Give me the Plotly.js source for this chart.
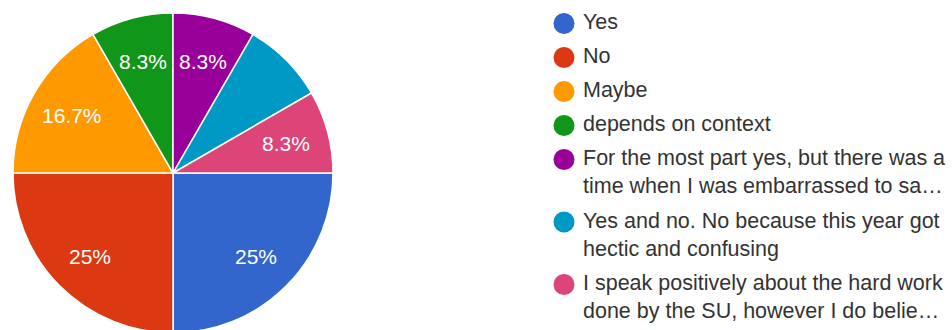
<!DOCTYPE html>
<html>
<head>
<meta charset="utf-8">
<script src="https://cdn.plot.ly/plotly-3.0.1.min.js"></script>
<style>
  html, body { margin: 0; padding: 0; overflow: hidden; background: #fff; }
  #chart { width: 952px; height: 346px; }
</style>
</head>
<body>
<div id="chart"></div>
<script>
// ---- data ----
const categories = ["Yes", "No", "Maybe", "depends on context",
  "For the most part yes, but there was a time when I was embarrassed to say...",
  "Yes and no. No because this year got hectic and confusing",
  "I speak positively about the hard work done by the SU, however I do believe..."];
const counts = [3, 3, 2, 1, 1, 1, 1];
const legendLabels = [
  "Yes",
  "No",
  "Maybe",
  "depends on context",
  "For the most part yes, but there was a<br>time when I was embarrassed to sa…",
  "Yes and no. No because this year got<br>hectic and confusing",
  "I speak positively about the hard work<br>done by the SU, however I do belie…"
];
const showPct = [true, true, true, true, true, false, true];
const colors = ["#3366cc", "#dc3912", "#ff9900", "#109618", "#990099", "#0099c6", "#dd4477"];

// ---- layout constants ----
const W = 952, H = 346;
const cx = 173, cy = 173, R = 160;
const FONT = "Arial, 'Liberation Sans', sans-serif";
const px2x = p => p / W;
const px2y = p => 1 - p / H;

const total = counts.reduce((a, b) => a + b, 0);
const rotation = 90;

const pie = {
  type: "pie",
  values: counts,
  labels: categories,
  sort: false,
  direction: "clockwise",
  rotation: rotation,
  textinfo: "none",
  hoverinfo: "none",
  marker: { colors: colors, line: { color: "#ffffff", width: 1.5 } },
  domain: { x: [px2x(cx - R), px2x(cx + R)], y: [px2y(cy + R), px2y(cy - R)] },
  showlegend: false
};

const annotations = [];
const shapes = [];

// percentage labels inside slices
let cum = 0;
counts.forEach((v, i) => {
  const mid = (rotation + 360 * (cum + v / 2) / total) * Math.PI / 180;
  cum += v;
  if (!showPct[i]) return;
  const rl = 0.73 * R;
  const pct = (100 * v / total);
  let txt = pct.toFixed(1);
  if (txt.endsWith(".0")) txt = txt.slice(0, -2);
  annotations.push({
    xref: "paper", yref: "paper",
    x: px2x(cx + rl * Math.sin(mid)), y: px2y(cy - rl * Math.cos(mid) + 1),
    xanchor: "center", yanchor: "middle",
    text: txt + "%", showarrow: false,
    font: { family: FONT, size: 21, color: "#ffffff" }
  });
});

// custom legend
const dotX = 564, dotR = 10.5, textX = 582;
let ly = 23.5;
legendLabels.forEach((lab, i) => {
  const lines = lab.split("<br>").length;
  shapes.push({
    type: "circle", xref: "paper", yref: "paper",
    x0: px2x(dotX - dotR), x1: px2x(dotX + dotR),
    y0: px2y(ly + dotR), y1: px2y(ly - dotR),
    fillcolor: colors[i], line: { width: 0 }
  });
  annotations.push({
    xref: "paper", yref: "paper",
    x: px2x(textX - 1), y: px2y(ly - 15.5),
    xanchor: "left", yanchor: "top", align: "left",
    text: lab, showarrow: false,
    font: { family: FONT, size: 21.5, color: "#333333" }
  });
  ly += 34 + 28.5 * (lines - 1);
});

const layout = {
  width: W, height: H,
  margin: { l: 0, r: 0, t: 0, b: 0 },
  paper_bgcolor: "#ffffff",
  plot_bgcolor: "#ffffff",
  showlegend: false,
  annotations: annotations,
  shapes: shapes
};

Plotly.newPlot("chart", [pie], layout, { displayModeBar: false, staticPlot: true });
</script>
</body>
</html>
